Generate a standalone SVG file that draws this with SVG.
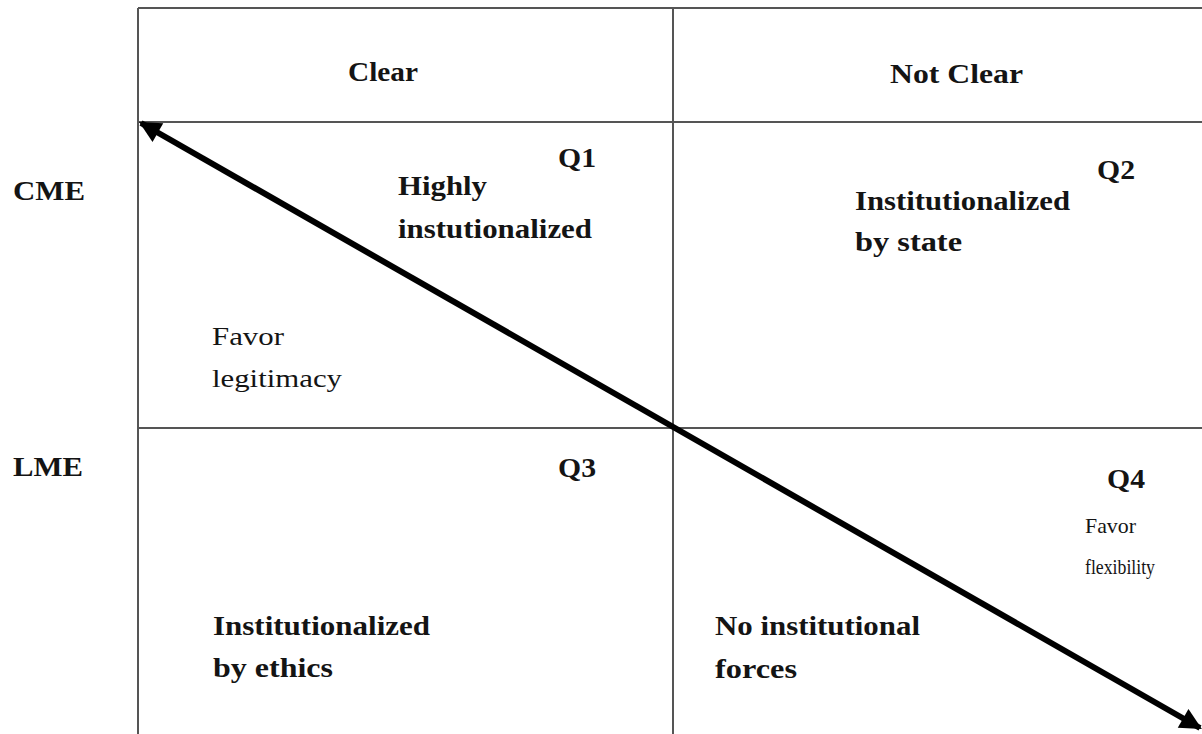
<svg xmlns="http://www.w3.org/2000/svg" width="1202" height="734" viewBox="0 0 1202 734">
  <style>
    .grid { stroke: #555; stroke-width: 2; fill: none; }
    .t { font-family: "Liberation Serif", "Times New Roman", serif; font-size: 28px; fill: #141414; }
    .m { font-size: 26px; }
    .s { font-size: 22px; }
    .b { font-weight: bold; }
    .axis { stroke: #000; stroke-width: 6; fill: none; }
  </style>
  <defs>
    <marker id="head" viewBox="0 0 10 10" refX="9" refY="5" markerWidth="4" markerHeight="3.6" orient="auto-start-reverse" markerUnits="strokeWidth">
      <path d="M0,0 L10,5 L0,10 Z" fill="#000"/>
    </marker>
  </defs>
  <rect width="1202" height="734" fill="#fff"/>

  <!-- table rules -->
  <g id="grid">
    <line class="grid" x1="138" y1="8" x2="1202" y2="8"/>
    <line class="grid" x1="138" y1="8" x2="138" y2="734"/>
    <line class="grid" x1="673" y1="8" x2="673" y2="734"/>
    <line class="grid" x1="138" y1="122" x2="1202" y2="122"/>
    <line class="grid" x1="138" y1="428" x2="1202" y2="428"/>
  </g>

  <!-- column and row headers -->
  <g id="col-clear"><text class="t b" x="348" y="81" textLength="70" lengthAdjust="spacingAndGlyphs">Clear</text></g>
  <g id="col-notclear"><text class="t b" x="890" y="83" textLength="133" lengthAdjust="spacingAndGlyphs">Not Clear</text></g>
  <g id="row-cme"><text class="t b" x="13" y="200" textLength="72" lengthAdjust="spacingAndGlyphs">CME</text></g>
  <g id="row-lme"><text class="t b" x="13" y="476" textLength="70" lengthAdjust="spacingAndGlyphs">LME</text></g>

  <!-- quadrant Q1 -->
  <g id="q1">
    <text class="t b" x="558" y="167" textLength="38" lengthAdjust="spacingAndGlyphs">Q1</text>
    <text class="t b" x="398" y="195" textLength="89" lengthAdjust="spacingAndGlyphs">Highly</text>
    <text class="t b" x="398" y="238" textLength="194" lengthAdjust="spacingAndGlyphs">instutionalized</text>
    <text class="t m" x="212" y="345" textLength="72" lengthAdjust="spacingAndGlyphs">Favor</text>
    <text class="t m" x="212" y="387" textLength="130" lengthAdjust="spacingAndGlyphs">legitimacy</text>
  </g>

  <!-- quadrant Q2 -->
  <g id="q2">
    <text class="t b" x="1097" y="179" textLength="38" lengthAdjust="spacingAndGlyphs">Q2</text>
    <text class="t b" x="855" y="210" textLength="215" lengthAdjust="spacingAndGlyphs">Institutionalized</text>
    <text class="t b" x="855" y="251" textLength="107" lengthAdjust="spacingAndGlyphs">by state</text>
  </g>

  <!-- quadrant Q3 -->
  <g id="q3">
    <text class="t b" x="558" y="477" textLength="38" lengthAdjust="spacingAndGlyphs">Q3</text>
    <text class="t b" x="213" y="635" textLength="217" lengthAdjust="spacingAndGlyphs">Institutionalized</text>
    <text class="t b" x="213" y="677" textLength="120" lengthAdjust="spacingAndGlyphs">by ethics</text>
  </g>

  <!-- quadrant Q4 -->
  <g id="q4">
    <text class="t b" x="1107" y="488" textLength="38" lengthAdjust="spacingAndGlyphs">Q4</text>
    <text class="t s" x="1085" y="533" textLength="51" lengthAdjust="spacingAndGlyphs">Favor</text>
    <text class="t s" x="1085" y="574" textLength="70" lengthAdjust="spacingAndGlyphs">flexibility</text>
    <text class="t b" x="715" y="635" textLength="205" lengthAdjust="spacingAndGlyphs">No institutional</text>
    <text class="t b" x="715" y="678" textLength="82" lengthAdjust="spacingAndGlyphs">forces</text>
  </g>

  <!-- diagonal double-headed arrow -->
  <g id="connectors">
    <line class="axis" x1="141" y1="123" x2="1200" y2="728" marker-start="url(#head)" marker-end="url(#head)"/>
  </g>
</svg>
